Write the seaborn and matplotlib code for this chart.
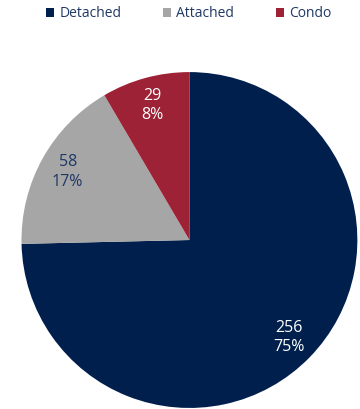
import matplotlib
matplotlib.use('Agg')
import matplotlib.pyplot as plt
import matplotlib.patches as patches
import seaborn as sns

# Data
categories = ['Detached', 'Attached', 'Condo']
counts = [256, 58, 29]
colors = ['#001f4d', '#a6a6a6', '#9e2236']
label_colors = ['white', '#1f3864', 'white']

sns.set_style('white')
plt.rcParams['font.family'] = ['Open Sans', 'DejaVu Sans']

total = sum(counts)

def fmt(pct):
    return f"{round(pct * total / 100)}\n{pct:.0f}%"

fig = plt.figure(figsize=(3.6, 4.09), dpi=100)
ax = fig.add_axes([0.0597, 0.0024, 0.933, 0.8215])

wedges, texts, autotexts = ax.pie(counts, colors=colors, startangle=90, counterclock=False,
                                  autopct=fmt, pctdistance=0.83, radius=1,
                                  wedgeprops={'linewidth': 0, 'edgecolor': 'none'},
                                  textprops={'fontsize': 11.5, 'linespacing': 1.3})
for t, c in zip(autotexts, label_colors):
    t.set_color(c)
ax.set_xlim(-1, 1)
ax.set_ylim(-1, 1)
ax.set_aspect('equal')

# Legend across the top
handles = [patches.Patch(facecolor=c, edgecolor='none') for c in colors]
leg = fig.legend(handles, categories, loc='upper center', bbox_to_anchor=(0.524, 1.015), ncol=3,
                 frameon=False, fontsize=10, handlelength=0.6, handleheight=0.6,
                 handletextpad=0.35, columnspacing=3.0)
for t in leg.get_texts():
    t.set_color('#1f3864')

plt.savefig('out.png', dpi=100)
plt.close(fig)
